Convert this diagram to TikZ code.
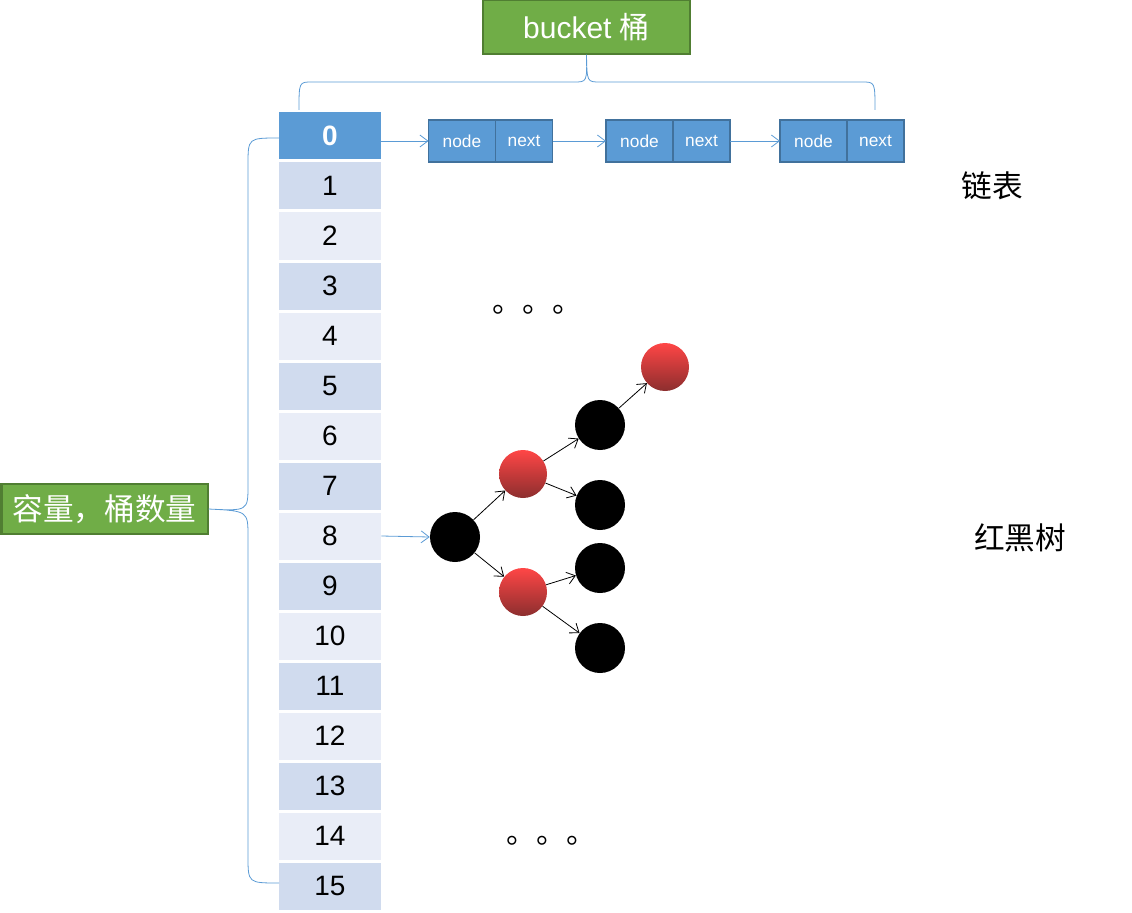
\documentclass[tikz,border=0pt]{standalone}
\usepackage{fontspec}
\setmainfont{Liberation Sans}
\newfontfamily\cjk{Noto Sans CJK SC}
\usetikzlibrary{arrows.meta, positioning}

\definecolor{cellblue}{HTML}{5B9BD5}
\definecolor{celldark}{HTML}{D0DBEE}
\definecolor{celllight}{HTML}{E9EDF7}
\definecolor{nodeedge}{HTML}{41719C}
\definecolor{boxgreen}{HTML}{70AD47}
\definecolor{boxedge}{HTML}{507E32}
\definecolor{redtop}{HTML}{FF4646}
\definecolor{redbot}{HTML}{8C2E2E}

\tikzset{
    cell/.style={minimum width=76.5pt, minimum height=35.25pt, inner sep=0pt,
        font=\fontsize{21}{21}\selectfont},
    half/.style={draw=nodeedge, line width=1.1pt, fill=cellblue, text=white,
        minimum height=31.5pt, inner sep=0pt, outer sep=0pt,
        font=\fontsize{13}{13}\selectfont},
    nodehalf/.style={half, minimum width=50.25pt},
    nexthalf/.style={half, minimum width=42.75pt},
    greenbox/.style={draw=boxedge, line width=1.5pt, fill=boxgreen, text=white, inner sep=0pt},
    blacknode/.style={circle, fill=black, minimum size=37.5pt, inner sep=0pt},
    rednode/.style={circle, top color=redtop, bottom color=redbot, minimum size=36pt, inner sep=0pt},
    link/.style={->, draw=cellblue, line width=0.6pt},
    edge/.style={->, draw=black, line width=0.6pt},
    brace/.style={draw=cellblue, line width=0.6pt}
}

\begin{document}
\begin{tikzpicture}[x=0.75pt, y=-0.75pt, >={Straight Barb[length=6pt,width=9pt]}]
    \useasboundingbox (0,0) rectangle (1132,913);

    % Bucket array
    \node[cell, fill=cellblue, text=white, font=\fontsize{21}{21}\selectfont\bfseries] (c0) at (330,136) {0};
    \foreach \i in {1,...,15}{
        \pgfmathsetmacro{\shade}{isodd(\i) ? 1 : 0}
        \ifnum\shade=1
            \node[cell, fill=celldark] (c\i) at (330,136+50*\i) {\i};
        \else
            \node[cell, fill=celllight] (c\i) at (330,136+50*\i) {\i};
        \fi
    }

    % Linked list
    \node[nodehalf] (n1) at (462,141) {node};
    \node[nexthalf, right=0pt of n1] (x1) {next};
    \node[nodehalf] (n2) at (639.5,141) {node};
    \node[nexthalf, right=0pt of n2] (x2) {next};
    \node[nodehalf] (n3) at (813.5,141) {node};
    \node[nexthalf, right=0pt of n3] (x3) {next};
    \draw[link] (c0.east |- n1.west) -- (n1.west);
    \draw[link] (x1.east) -- (n2.west);
    \draw[link] (x2.east) -- (n3.west);

    % Top brace and label
    \node[greenbox, minimum width=155pt, minimum height=40pt,
        font=\fontsize{22.5}{22.5}\selectfont] (bucket) at (586.5,27) {bucket {\cjk 桶}};
    \coordinate (tl) at (299,110);
    \coordinate (tr) at (875,110);
    \draw[brace] (tl) .. controls (299,82) .. (312,82) -- (574,82)
        .. controls (587,82) .. (bucket.south)
        .. controls (587,82) .. (600,82) -- (862,82) .. controls (875,82) .. (tr);

    % Left brace and label
    \node[greenbox, minimum width=154.5pt, minimum height=38pt,
        font=\cjk\fontsize{23}{23}\selectfont, anchor=west] (cap) at (0.5,509) {容量，桶数量};
    \coordinate (lt) at (279,138);
    \coordinate (lb) at (279,883);
    \draw[brace] (lt) .. controls (248,138) .. (248,165) -- (248,485)
        .. controls (248,511) .. (cap.east)
        .. controls (248,511) .. (248,537) -- (248,856) .. controls (248,883) .. (lb);

    % Red-black tree
    \node[blacknode] (root) at (455,537) {};
    \node[rednode] (ra) at (523,474) {};
    \node[rednode] (rb) at (523,592) {};
    \node[blacknode] (ba) at (600,425) {};
    \node[blacknode] (bb) at (600,505) {};
    \node[blacknode] (bc) at (600,568) {};
    \node[blacknode] (bd) at (600,648) {};
    \node[rednode] (rc) at (665,367) {};
    \draw[link] (c8.east) -- (root.west);
    \draw[edge] (root) -- (ra);
    \draw[edge] (root) -- (rb);
    \draw[edge] (ra) -- (ba);
    \draw[edge] (ra) -- (bb);
    \draw[edge] (rb) -- (bc);
    \draw[edge] (rb) -- (bd);
    \draw[edge] (ba) -- (rc);

    % Ellipses
    \node[anchor=base west, inner sep=0pt, font=\cjk\fontsize{22.5}{22.5}\selectfont] (dotsa) at (492,312) {。。。};
    \node[anchor=base west, inner sep=0pt, font=\cjk\fontsize{22.5}{22.5}\selectfont] (dotsb) at (506,843) {。。。};

    % Labels
    \node[font=\cjk\fontsize{23}{23}\selectfont] (listlabel) at (992,186) {链表};
    \node[font=\cjk\fontsize{23}{23}\selectfont] (treelabel) at (1020,538) {红黑树};
\end{tikzpicture}
\end{document}
